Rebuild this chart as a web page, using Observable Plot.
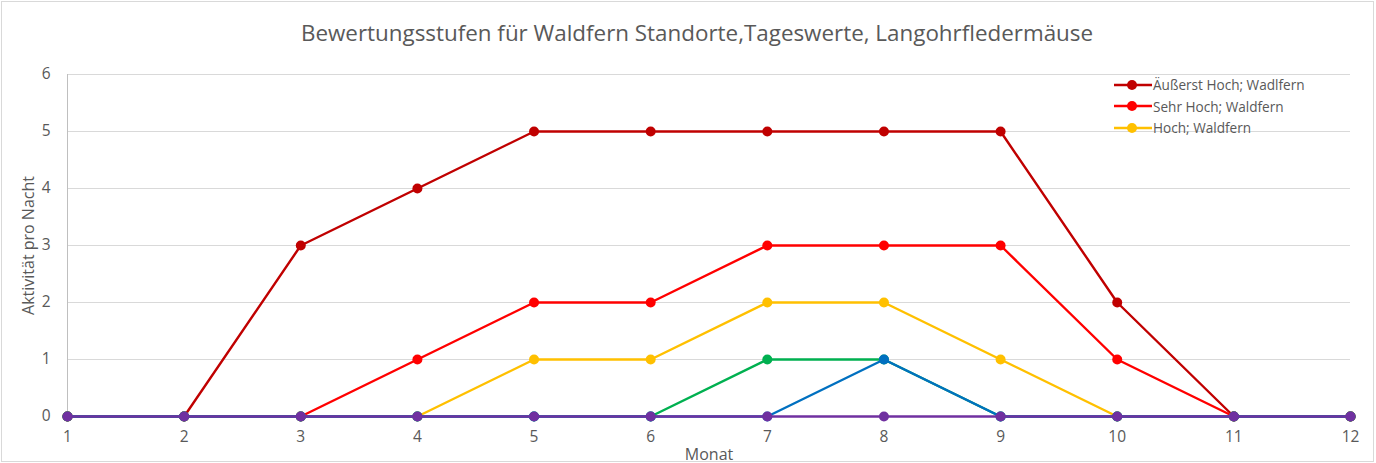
<!DOCTYPE html>
<html><head><meta charset="utf-8">
<script src="https://cdn.jsdelivr.net/npm/d3@7"></script>
<script src="https://cdn.jsdelivr.net/npm/@observablehq/plot@0.6"></script>
<style>
body{margin:0;background:#fff;font-family:"Open Sans",sans-serif;}
#wrap{position:relative;width:1376px;height:463px;overflow:hidden;}
#frame{position:absolute;left:1px;top:1px;width:1371px;height:459px;border:1px solid #d9d9d9;pointer-events:none;}
#title{position:absolute;left:0;width:1394px;top:17px;text-align:center;font-size:22.4px;color:#595959;}
#legend{position:absolute;left:1113px;top:74px;font-size:13.6px;color:#595959;}
#legend div{height:21.5px;display:flex;align-items:center;}
#legend svg{margin-right:0px;}
</style></head>
<body><div id="wrap"><div id="chart"></div><div id="title">Bewertungsstufen für Waldfern Standorte,Tageswerte, Langohrfledermäuse</div><div id="legend"></div><div id="frame"></div></div>
<script>
const months = [1,2,3,4,5,6,7,8,9,10,11,12];
const seriesNames = ["Äußerst Hoch; Wadlfern","Sehr Hoch; Waldfern","Hoch; Waldfern","Mittel; Waldfern","Gering; Waldfern","Keine; Waldfern"];
const seriesColors = ["#C00000","#FF0000","#FFC000","#00B050","#0070C0","#7030A0"];
const aeusserstHoch = [0,0,3,4,5,5,5,5,5,2,0,0];
const sehrHoch      = [0,0,0,1,2,2,3,3,3,1,0,0];
const hoch          = [0,0,0,0,1,1,2,2,1,0,0,0];
const mittel        = [0,0,0,0,0,0,1,1,0,0,0,0];
const gering        = [0,0,0,0,0,0,0,1,0,0,0,0];
const keine         = [0,0,0,0,0,0,0,0,0,0,0,0];
const yTicks = [0,1,2,3,4,5,6];
const legendShown = 3;

const allSeries = [aeusserstHoch, sehrHoch, hoch, mittel, gering, keine];
const data = allSeries.flatMap((vals, si) => vals.map((v, i) => ({month: months[i], value: v, series: seriesNames[si], order: si})));

const marks = [Plot.gridY(yTicks, {stroke: "#d9d9d9", strokeOpacity: 1, strokeWidth: 1}),
  Plot.ruleX([1], {y1: 0, y2: 6, stroke: "#bfbfbf", strokeWidth: 1})];
seriesNames.forEach((name, si) => {
  const d = data.filter(r => r.order === si);
  marks.push(Plot.line(d, {x: "month", y: "value", stroke: seriesColors[si], strokeWidth: 2.4}));
  marks.push(Plot.dot(d, {x: "month", y: "value", fill: seriesColors[si], r: 5}));
});
marks.push(Plot.axisX(months, {tickSize: 0, tickPadding: 14, fontSize: 15.5, color: "#595959", tickFormat: d3.format("d"), label: null}));
marks.push(Plot.axisX({label: "Monat", labelAnchor: "center", labelArrow: "none", labelOffset: 43, ticks: [], tickSize: 0, fontSize: 16, color: "#595959"}));
marks.push(Plot.axisY(yTicks, {tickSize: 0, tickPadding: 17, fontSize: 15.5, color: "#595959", tickFormat: d3.format("d"), label: null}));
marks.push(Plot.axisY({label: "Aktivität pro Nacht", labelAnchor: "center", labelArrow: "none", labelOffset: 45, ticks: [], tickSize: 0, fontSize: 16, color: "#595959"}));

const chart = Plot.plot({
  width: 1376, height: 463,
  marginTop: 74, marginBottom: 47, marginLeft: 67, marginRight: 26,
  x: {domain: [1, 12]},
  y: {domain: [0, 6]},
  style: {fontFamily: "Open Sans, sans-serif", fontSize: "14px", color: "#595959", background: "transparent"},
  marks
});
document.getElementById("chart").appendChild(chart);

const leg = document.getElementById("legend");
seriesNames.slice(0, legendShown).forEach((n, i) => {
  const row = document.createElement("div");
  row.innerHTML = `<svg width="40" height="12"><line x1="1" x2="39" y1="6" y2="6" stroke="${seriesColors[i]}" stroke-width="2.4"/><circle cx="19" cy="6" r="5" fill="${seriesColors[i]}"/></svg><span>${n}</span>`;
  leg.appendChild(row);
});
</script></body></html>
